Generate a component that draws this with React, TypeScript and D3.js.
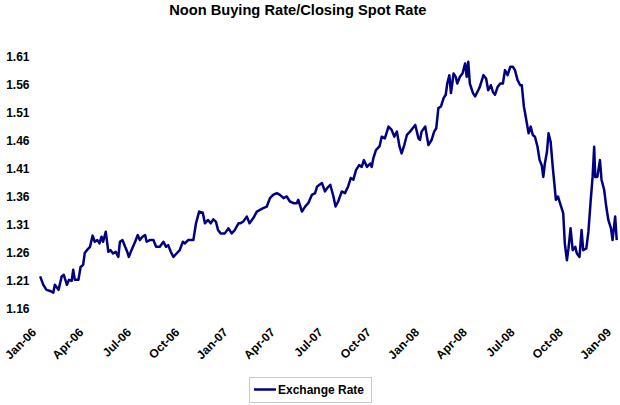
import React from "react";
import * as d3 from "d3";

const TITLE = "Noon Buying Rate/Closing Spot Rate";
const SERIES_NAME = "Exchange Rate";

const dates: string[] = [
  "2006-01-28","2006-02-03","2006-02-09","2006-02-16","2006-02-22","2006-02-25","2006-03-04","2006-03-10","2006-03-14","2006-03-20",
  "2006-03-24","2006-03-29","2006-04-01","2006-04-04","2006-04-11","2006-04-15","2006-04-20","2006-04-23","2006-04-27","2006-05-03",
  "2006-05-08","2006-05-12","2006-05-17","2006-05-21","2006-05-25","2006-05-28","2006-06-02","2006-06-07","2006-06-11","2006-06-16",
  "2006-06-21","2006-06-26","2006-06-29","2006-07-04","2006-07-09","2006-07-13","2006-07-16","2006-07-21","2006-07-28","2006-08-02",
  "2006-08-06","2006-08-11","2006-08-16","2006-08-19","2006-08-25","2006-09-01","2006-09-06","2006-09-13","2006-09-20","2006-09-25",
  "2006-09-29","2006-10-04","2006-10-09","2006-10-15","2006-10-21","2006-10-27","2006-10-31","2006-11-06","2006-11-16","2006-11-21",
  "2006-11-27","2006-12-04","2006-12-08","2006-12-14","2006-12-19","2006-12-24","2006-12-29",
  "2007-01-02","2007-01-07","2007-01-15","2007-01-22","2007-01-28","2007-02-03","2007-02-10","2007-02-13","2007-02-19","2007-02-26",
  "2007-03-03","2007-03-10","2007-03-17","2007-03-23","2007-03-29","2007-04-05","2007-04-11","2007-04-17","2007-04-24","2007-04-30",
  "2007-05-07","2007-05-13","2007-05-19","2007-05-26","2007-06-01","2007-06-04","2007-06-11","2007-06-17","2007-06-23","2007-06-30",
  "2007-07-06","2007-07-10","2007-07-19","2007-07-25","2007-07-29","2007-08-04","2007-08-10","2007-08-14","2007-08-19","2007-08-26",
  "2007-09-01","2007-09-07","2007-09-12","2007-09-17","2007-09-22","2007-09-28","2007-10-03","2007-10-07","2007-10-13","2007-10-19",
  "2007-10-22","2007-10-25","2007-10-30","2007-11-06","2007-11-10","2007-11-16","2007-11-23","2007-11-29","2007-12-04","2007-12-09",
  "2007-12-14","2007-12-18","2007-12-23","2007-12-28",
  "2008-01-03","2008-01-08","2008-01-13","2008-01-19","2008-01-22","2008-01-25","2008-02-01","2008-02-07","2008-02-13","2008-02-18",
  "2008-02-22","2008-02-26","2008-03-02","2008-03-07","2008-03-11","2008-03-14","2008-03-18","2008-03-21","2008-03-26","2008-03-30",
  "2008-04-02","2008-04-07","2008-04-12","2008-04-17","2008-04-20","2008-04-23","2008-04-26","2008-05-02","2008-05-06","2008-05-12",
  "2008-05-15","2008-05-22","2008-05-27","2008-05-31","2008-06-05","2008-06-09","2008-06-13","2008-06-18","2008-06-23","2008-06-28",
  "2008-07-02","2008-07-07","2008-07-12","2008-07-17","2008-07-21","2008-07-26","2008-07-31","2008-08-03","2008-08-07","2008-08-11",
  "2008-08-16","2008-08-20","2008-08-24","2008-08-28","2008-09-02","2008-09-06","2008-09-10","2008-09-13","2008-09-16","2008-09-20",
  "2008-09-23","2008-09-27","2008-10-01","2008-10-04","2008-10-07","2008-10-11","2008-10-14","2008-10-17","2008-10-21","2008-10-24",
  "2008-10-28","2008-10-31","2008-11-04","2008-11-08","2008-11-13","2008-11-16","2008-11-21","2008-11-25","2008-11-28","2008-12-04",
  "2008-12-08","2008-12-12","2008-12-16","2008-12-19","2008-12-21","2008-12-25","2008-12-30",
  "2009-01-02","2009-01-07","2009-01-11","2009-01-15","2009-01-20","2009-01-23","2009-01-28","2009-01-31",
];

const rates: number[] = [
  1.217,1.202,1.193,1.191,1.188,1.202,1.193,1.217,1.220,1.202,
  1.211,1.209,1.229,1.211,1.211,1.234,1.238,1.259,1.264,1.270,
  1.290,1.279,1.282,1.276,1.288,1.279,1.297,1.261,1.264,1.258,
  1.261,1.252,1.279,1.282,1.270,1.261,1.252,1.264,1.279,1.291,
  1.282,1.288,1.291,1.279,1.282,1.282,1.270,1.270,1.279,1.270,
  1.273,1.261,1.252,1.258,1.264,1.279,1.276,1.282,1.282,1.312,
  1.333,1.331,1.312,1.318,1.312,1.319,1.315,
  1.300,1.294,1.294,1.303,1.294,1.300,1.312,1.312,1.315,1.324,
  1.312,1.321,1.333,1.336,1.339,1.342,1.357,1.363,1.366,1.363,
  1.357,1.360,1.351,1.348,1.348,1.354,1.333,1.342,1.348,1.363,
  1.366,1.378,1.384,1.369,1.375,1.381,1.360,1.342,1.351,1.369,
  1.366,1.378,1.393,1.390,1.407,1.416,1.413,1.425,1.413,1.419,
  1.413,1.428,1.443,1.450,1.467,1.464,1.485,1.479,1.467,1.476,
  1.449,1.437,1.452,1.470,
  1.476,1.482,1.488,1.464,1.461,1.476,1.485,1.452,1.461,1.476,
  1.482,1.518,1.521,1.536,1.542,1.562,1.577,1.545,1.580,1.574,
  1.562,1.574,1.580,1.598,1.574,1.601,1.562,1.545,1.539,1.550,
  1.556,1.577,1.571,1.550,1.559,1.547,1.542,1.556,1.562,1.562,
  1.586,1.577,1.592,1.592,1.586,1.568,1.559,1.559,1.521,1.500,
  1.473,1.485,1.470,1.467,1.449,1.425,1.416,1.395,1.419,1.440,
  1.473,1.458,1.413,1.384,1.354,1.360,1.351,1.342,1.330,1.276,
  1.246,1.267,1.303,1.264,1.270,1.258,1.252,1.300,1.264,1.267,
  1.297,1.348,1.395,1.449,1.395,1.395,1.425,
  1.390,1.372,1.342,1.318,1.303,1.282,1.324,1.282,
];

const yTicks: number[] = [1.16, 1.21, 1.26, 1.31, 1.36, 1.41, 1.46, 1.51, 1.56, 1.61];
const xTickLabels: string[] = [
  "Jan-06","Apr-06","Jul-06","Oct-06","Jan-07","Apr-07","Jul-07",
  "Oct-07","Jan-08","Apr-08","Jul-08","Oct-08","Jan-09",
];

const FONT = "'Liberation Sans', Arial, Helvetica, sans-serif";
const LINE_COLOR = "#000080";

export default function App() {
  const W = 620, H = 405;
  const parse = d3.timeParse("%Y-%m-%d");
  const data = dates.map((d, i) => ({ date: parse(d) as Date, value: rates[i] }));

  const x = d3.scaleTime()
    .domain([new Date(2006, 0, 1), new Date(2009, 0, 1)])
    .range([26, 601]);
  const y = d3.scaleLinear().domain([1.16, 1.61]).range([308.3, 56.7]);

  const tickDates = d3.timeMonth.every(3)!.range(new Date(2006, 0, 1), new Date(2009, 0, 2));

  const line = d3.line<{ date: Date; value: number }>()
    .x((d) => x(d.date))
    .y((d) => y(d.value));

  return (
    <svg width={W} height={H} style={{ position: "absolute", left: 0, top: 0, background: "#fff" }}
      fontFamily={FONT}>
      <rect x={0} y={0} width={W} height={H} fill="#fff" />
      <text x={297.8} y={14.5} textAnchor="middle" fontSize={14.67} fontWeight="bold" fill="#000">
        {TITLE}
      </text>
      {yTicks.map((t) => (
        <text key={t} x={29.5} y={y(t) + 4.3} textAnchor="end" fontSize={12} fontWeight="bold" fill="#000">
          {t.toFixed(2)}
        </text>
      ))}
      {tickDates.map((d, i) => {
        const tx = x(d) + 11;
        const ty = 333;
        return (
          <text key={i} transform={`translate(${tx},${ty}) rotate(-45)`} textAnchor="end"
            fontSize={12} fontWeight="bold" fill="#000">
            {xTickLabels[i]}
          </text>
        );
      })}
      <path d={line(data) || ""} fill="none" stroke={LINE_COLOR} strokeWidth={2.5} strokeLinejoin="round" />
      <g>
        <rect x={249.5} y={377.5} width={122} height={25} fill="#fff" stroke="#c8c8c8" strokeWidth={1} />
        <line x1={254} x2={276} y1={389.5} y2={389.5} stroke={LINE_COLOR} strokeWidth={2.5} />
        <text x={278} y={393.8} fontSize={12} fontWeight="bold" fill="#000">{SERIES_NAME}</text>
      </g>
    </svg>
  );
}
